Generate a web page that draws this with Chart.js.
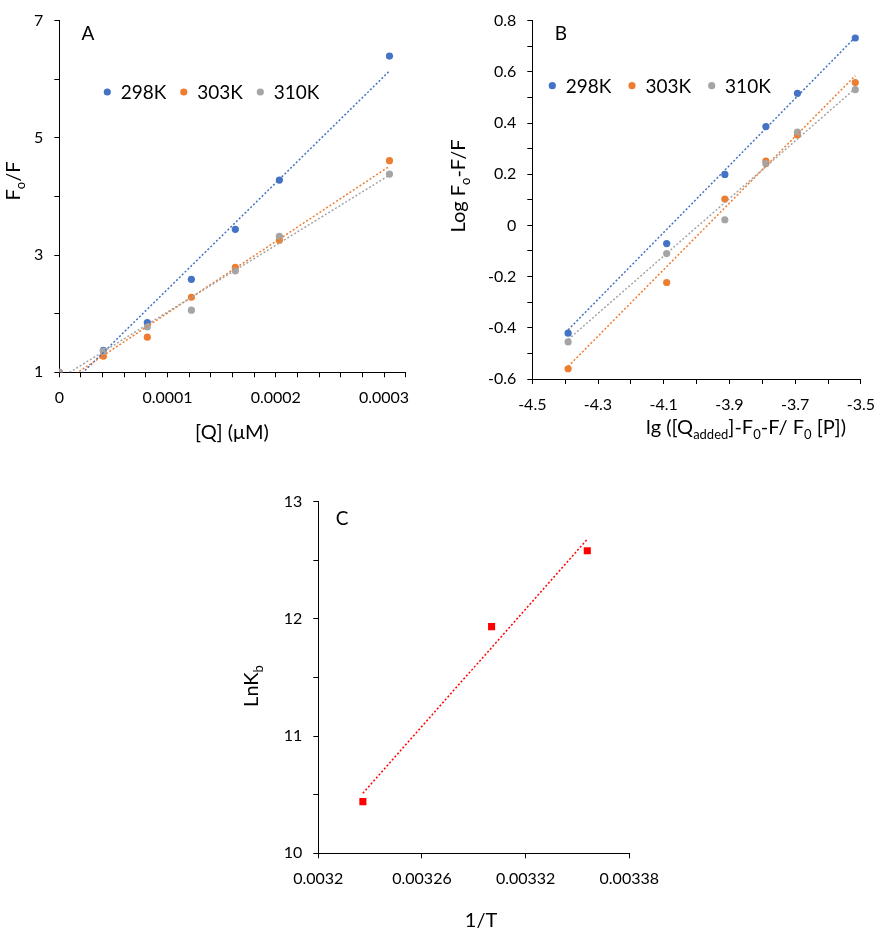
<!DOCTYPE html>
<html>
<head>
<meta charset="utf-8">
<title>Quenching plots</title>
<script src="https://cdn.jsdelivr.net/npm/chart.js@4"></script>
<style>
  body { margin: 0; background: #fff; width: 886px; height: 931px; position: relative; overflow: hidden; }
  canvas { position: absolute; }
</style>
</head>
<body>
<canvas id="chartA" width="443" height="445" style="left:0;top:0"></canvas>
<canvas id="chartB" width="443" height="445" style="left:443px;top:0"></canvas>
<canvas id="chartC" width="440" height="511" style="left:230px;top:420px"></canvas>
<script>
// A: Fo/F vs [Q]
const qConc = [0, 0.0000407, 0.0000813, 0.000122, 0.0001626, 0.0002033, 0.000305];
const foF298 = [1, 1.375, 1.846, 2.586, 3.439, 4.28, 6.394];
const foF303 = [1, 1.274, 1.60, 2.28, 2.79, 3.254, 4.611];
const foF310 = [1, 1.36, 1.773, 2.059, 2.732, 3.32, 4.381];
// trendlines (end points)
const trendQ = [0, 0.000305];
const trendA298 = [0.60, 6.14];
const trendA303 = [0.79, 4.515];
const trendA310 = [0.89, 4.364];

// B: double log plot
const lgQ = [-4.391, -4.091, -3.914, -3.789, -3.693, -3.517];
const logF298 = [-0.421, -0.071, 0.199, 0.386, 0.516, 0.732];
const logF303 = [-0.56, -0.223, 0.103, 0.251, 0.353, 0.558];
const logF310 = [-0.455, -0.110, 0.022, 0.241, 0.364, 0.530];
const trendLgQ = [-4.391, -3.517];
const trendB298 = [-0.408, 0.735];
const trendB303 = [-0.551, 0.585];
const trendB310 = [-0.446, 0.535];

// C: van't Hoff
const invT = [0.0032258, 0.0033003, 0.0033557];
const lnKb = [10.441, 11.934, 12.582];
const trendInvT = [0.0032258, 0.0033557];
const trendC = [10.512, 12.68];

const seriesNames = ["298K", "303K", "310K"];
const seriesColors = ["#4472C4", "#ED7D31", "#A5A5A5"];

Chart.defaults.font.family = "Lato";
Chart.defaults.font.size = 16;
Chart.defaults.color = "#000";

const toXY = (xs, ys) => xs.map((x, i) => ({x: x, y: ys[i]}));

function pointSet(xs, ys, color, order) {
    return {
        data: toXY(xs, ys),
        showLine: false,
        backgroundColor: color,
        borderColor: color,
        pointRadius: 3.6,
        pointHoverRadius: 3.6,
        pointBorderWidth: 0,
        order: order
    };
}

function trendSet(xs, ys, color, order) {
    return {
        data: toXY(xs, ys),
        showLine: true,
        borderColor: color,
        borderWidth: 1.5,
        borderDash: [2, 2],
        pointRadius: 0,
        fill: false,
        order: order
    };
}

function axis(min, max, step, callback, fit) {
    return {
        type: "linear",
        min: min,
        max: max,
        ticks: {stepSize: step, autoSkip: false, maxRotation: 0, padding: 11, color: "#000", font: {size: 16}, callback: callback},
        grid: {drawOnChartArea: false, tickLength: 5, color: "#000", lineWidth: 1},
        border: {color: "#000", width: 1},
        afterFit: fit
    };
}

// draws text with subscripts, panel letters and the inline legend
function drawRich(ctx, item) {
    const size = item.size;
    const subSize = Math.round(size * 0.65);
    ctx.save();
    ctx.translate(item.x, item.y);
    if (item.rot) ctx.rotate(item.rot * Math.PI / 180);
    ctx.fillStyle = "#000";
    ctx.textBaseline = "alphabetic";
    ctx.textAlign = "left";
    const widths = item.segs.map(s => {
        ctx.font = (s.sub ? subSize : size) + "px Lato";
        return ctx.measureText(s.t).width;
    });
    const total = widths.reduce((a, b) => a + b, 0);
    let x = -total / 2;
    const base = size * 0.36;
    item.segs.forEach((s, i) => {
        ctx.font = (s.sub ? subSize : size) + "px Lato";
        ctx.fillText(s.t, x, s.sub ? base + size * 0.22 : base);
        x += widths[i];
    });
    ctx.restore();
}

function panelText(items, legend) {
    return {
        id: "panelText",
        afterDraw(chart) {
            const ctx = chart.ctx;
            items.forEach(it => drawRich(ctx, it));
            if (!legend) return;
            ctx.save();
            seriesNames.forEach((name, i) => {
                const x = legend.x + i * legend.step;
                ctx.fillStyle = seriesColors[i];
                ctx.beginPath();
                ctx.arc(x, legend.y, 3.6, 0, Math.PI * 2);
                ctx.fill();
                ctx.fillStyle = "#000";
                ctx.font = legend.size + "px Lato";
                ctx.textBaseline = "alphabetic";
                ctx.textAlign = "left";
                ctx.fillText(name, x + 13.4, legend.y + legend.size * 0.36);
            });
            ctx.restore();
        }
    };
}

const baseOptions = (scales, padding) => ({
    responsive: false,
    animation: false,
    layout: {padding: padding},
    plugins: {legend: {display: false}, tooltip: {enabled: false}},
    scales: scales
});

// Q1 - chart A
new Chart(document.querySelector("#chartA"), {
    type: "scatter",
    data: {
        datasets: [
            pointSet(qConc, foF298, seriesColors[0], 6),
            pointSet(qConc, foF303, seriesColors[1], 5),
            pointSet(qConc, foF310, seriesColors[2], 4),
            trendSet(trendQ, trendA298, seriesColors[0], 3),
            trendSet(trendQ, trendA303, seriesColors[1], 2),
            trendSet(trendQ, trendA310, seriesColors[2], 1)
        ]
    },
    options: baseOptions({
        x: axis(0, 0.00032, 0.00002, v => {
            const k = v / 0.0001;
            return Math.abs(k - Math.round(k)) < 1e-6 && Math.round(k) <= 3 ? String(Math.round(k) / 10000) : "";
        }, s => { s.height = 72.7; }),
        y: axis(1, 7, 1, v => (Math.round(v) % 2 === 1 ? String(v) : ""), s => { s.width = 59.3; })
    }, {left: 0, top: 15.7, right: 37.3, bottom: 0}),
    plugins: [panelText([
        {segs: [{t: "A"}], x: 88, y: 33, size: 19},
        {segs: [{t: "F"}, {t: "o", sub: true}, {t: "/F"}], x: 13, y: 181, size: 20, rot: -90},
        {segs: [{t: "[Q] (μM)"}], x: 232, y: 432, size: 20}
    ], {x: 107.3, y: 92, step: 76.5, size: 19})]
});

// Q2 - chart B
new Chart(document.querySelector("#chartB"), {
    type: "scatter",
    data: {
        datasets: [
            pointSet(lgQ, logF298, seriesColors[0], 6),
            pointSet(lgQ, logF303, seriesColors[1], 5),
            pointSet(lgQ, logF310, seriesColors[2], 4),
            trendSet(trendLgQ, trendB298, seriesColors[0], 3),
            trendSet(trendLgQ, trendB303, seriesColors[1], 2),
            trendSet(trendLgQ, trendB310, seriesColors[2], 1)
        ]
    },
    options: baseOptions({
        x: axis(-4.5, -3.5, 0.1, v => (Math.abs(Math.round(v * 10)) % 2 === 1 ? (Math.round(v * 10) / 10).toFixed(1) : ""), s => { s.height = 66; }),
        y: axis(-0.6, 0.8, 0.1, v => (Math.round(v * 10) % 2 === 0 ? String(Math.round(v * 10) / 10) : ""), s => { s.width = 89.3; })
    }, {left: 0, top: 9.3, right: 16.3, bottom: 0}),
    plugins: [panelText([
        {segs: [{t: "B"}], x: 118, y: 33, size: 19},
        {segs: [{t: "Log F"}, {t: "o", sub: true}, {t: "-F/F"}], x: 15, y: 186, size: 20, rot: -90},
        {segs: [{t: "lg ([Q"}, {t: "added", sub: true}, {t: "]-F"}, {t: "0", sub: true}, {t: "-F/ F"}, {t: "0", sub: true}, {t: " [P])"}], x: 303, y: 427, size: 20}
    ], {x: 109.3, y: 85.7, step: 79.7, size: 19})]
});

// Q3 - chart C
new Chart(document.querySelector("#chartC"), {
    type: "scatter",
    data: {
        datasets: [
            {
                data: toXY(invT, lnKb),
                showLine: false,
                backgroundColor: "#FF0000",
                borderColor: "#FF0000",
                pointStyle: "rect",
                pointRadius: 5,
                pointHoverRadius: 5,
                pointBorderWidth: 0,
                order: 2
            },
            trendSet(trendInvT, trendC, "#FF0000", 1)
        ]
    },
    options: baseOptions({
        x: axis(0.0032, 0.00338, 0.00006, v => String(Math.round(v * 1e5) / 1e5), s => { s.height = 77.7; }),
        y: axis(10, 13, 0.5, v => (Number.isInteger(v) ? String(v) : ""), s => { s.width = 88.3; })
    }, {left: 0, top: 81.7, right: 30, bottom: 0}),
    plugins: [panelText([
        {segs: [{t: "C"}], x: 112, y: 98, size: 19},
        {segs: [{t: "LnK"}, {t: "b", sub: true}], x: 21, y: 266, size: 20, rot: -90},
        {segs: [{t: "1/T"}], x: 251, y: 500, size: 20}
    ], null)]
});
</script>
</body>
</html>
